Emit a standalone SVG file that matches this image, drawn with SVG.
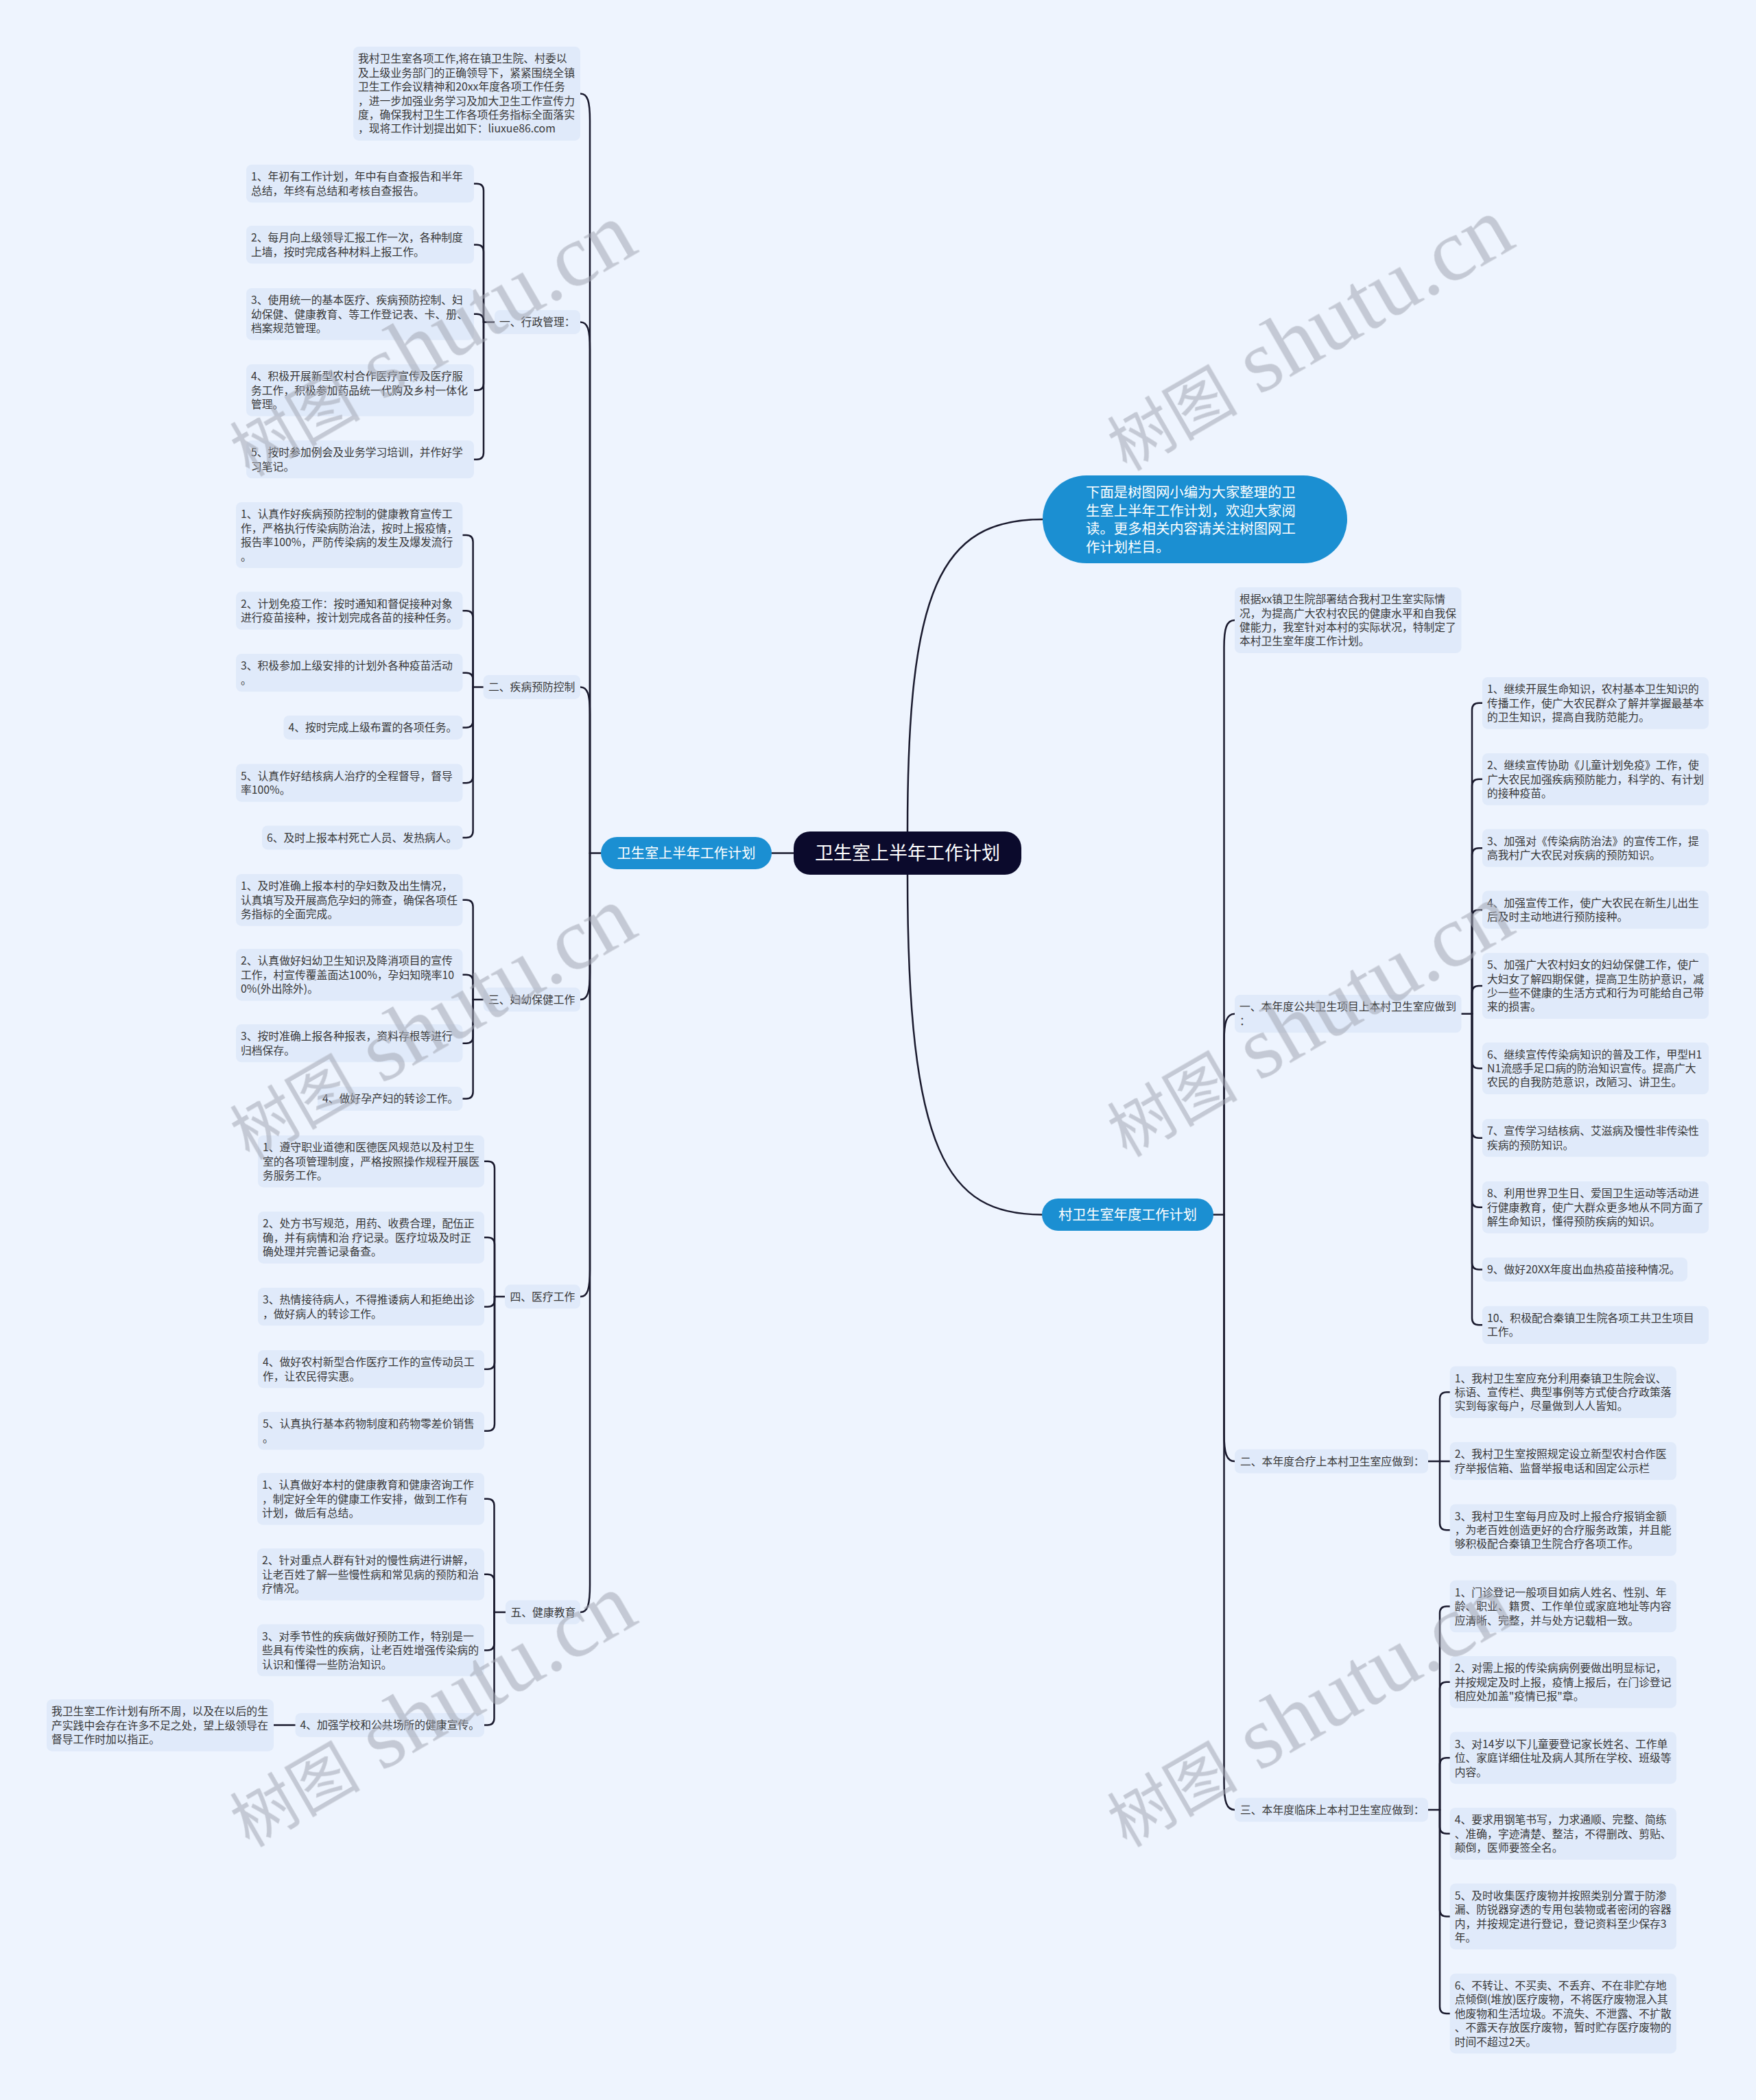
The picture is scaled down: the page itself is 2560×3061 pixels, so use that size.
<svg xmlns="http://www.w3.org/2000/svg" width="2560" height="3061" viewBox="0 0 2560 3061">
<style>
.bg{fill:#eef4fe}
.leaf{fill:#e0eafa}
.t{font-family:"Noto Sans CJK SC","Noto Sans",sans-serif;font-size:15.8px;fill:#383838}
.w{font-family:"Noto Sans CJK SC","Noto Sans",sans-serif;fill:#ffffff}
.blue{fill:#1b8fd2}
.root{fill:#0b0a2c}
#connectors path{fill:none;stroke:#1a1a2e;stroke-width:2.5;stroke-linecap:round}
.wm{font-family:"Liberation Serif","Noto Sans CJK SC",serif;fill:#a3a7b2;opacity:0.55}
</style>
<rect class="bg" x="0" y="0" width="2560" height="3061"/>

<g id="connectors">
<!-- left trunk -->
<path d="M846 136.5 C857 136.5 860 148 860 176 V1243.5"/>
<path d="M846 469.45 C857 469.45 860 481 860 509 V1243.5"/>
<path d="M846 1001.45 C857 1001.45 860 1013 860 1041 V1243.5"/>
<path d="M846 1457.05 C857 1457.05 860 1445 860 1417 V1243.5"/>
<path d="M846 1890.05 C857 1890.05 860 1878 860 1850 V1243.5"/>
<path d="M846 2350.05 C857 2350.05 860 2338 860 2310 V1243.5"/>
<path d="M860 1243.5 H876"/>
<path d="M1125 1243.5 H1157"/>
<!-- center to right -->
<path d="M1323 1212 C1323 860 1370 757 1520 757"/>
<path d="M1323 1275 C1323 1680 1380 1770.5 1519 1770.5"/>
<!-- right trunk -->
<path d="M1769 1770.5 H1784.5"/>
<path d="M1800 904.05 C1788 904.05 1784.5 916 1784.5 944 V1770.5"/>
<path d="M1800 1477.65 C1788 1477.65 1784.5 1490 1784.5 1518 V1770.5"/>
<path d="M1800 2130.05 C1788 2130.05 1784.5 2118 1784.5 2090 V1770.5"/>
<path d="M1800 2637.95 C1788 2637.95 1784.5 2626 1784.5 2598 V1770.5"/>
<!-- left 一 -->
<path d="M721 469.45 H705"/>
<path d="M705 469.45 V277.65 Q705 267.65 695 267.65 H691"/>
<path d="M705 469.45 V366.65 Q705 356.65 695 356.65 H691"/>
<path d="M705 469.45 V467.85 Q705 457.85 695 457.85 H691"/>
<path d="M705 469.45 V558.85 Q705 568.85 695 568.85 H691"/>
<path d="M705 469.45 V659.65 Q705 669.65 695 669.65 H691"/>
<!-- left 二 -->
<path d="M704.6 1001.45 H689.6"/>
<path d="M689.6 1001.45 V790.05 Q689.6 780.05 679.6 780.05 H674.5"/>
<path d="M689.6 1001.45 V900.15 Q689.6 890.15 679.6 890.15 H674.5"/>
<path d="M689.6 1001.45 V990.65 Q689.6 980.65 679.6 980.65 H674.5"/>
<path d="M689.6 1001.45 V1050.45 Q689.6 1060.45 679.6 1060.45 H674.5"/>
<path d="M689.6 1001.45 V1131.15 Q689.6 1141.15 679.6 1141.15 H674.5"/>
<path d="M689.6 1001.45 V1210.95 Q689.6 1220.95 679.6 1220.95 H674.5"/>
<!-- left 三 -->
<path d="M704.6 1457.05 H689.6"/>
<path d="M689.6 1457.05 V1321.85 Q689.6 1311.85 679.6 1311.85 H674.5"/>
<path d="M689.6 1457.05 V1430.85 Q689.6 1420.85 679.6 1420.85 H674.5"/>
<path d="M689.6 1457.05 V1510.65 Q689.6 1520.65 679.6 1520.65 H674.5"/>
<path d="M689.6 1457.05 V1591.45 Q689.6 1601.45 679.6 1601.45 H674.5"/>
<!-- left 四 -->
<path d="M736 1890.05 H721"/>
<path d="M721 1890.05 V1702.85 Q721 1692.85 711 1692.85 H706"/>
<path d="M721 1890.05 V1813.85 Q721 1803.85 711 1803.85 H706"/>
<path d="M721 1890.05 V1894.65 Q721 1904.65 711 1904.65 H706"/>
<path d="M721 1890.05 V1985.65 Q721 1995.65 711 1995.65 H706"/>
<path d="M721 1890.05 V2075.65 Q721 2085.65 711 2085.65 H706"/>
<!-- left 五 -->
<path d="M737 2350.05 H720.5"/>
<path d="M720.5 2350.05 V2194.85 Q720.5 2184.85 710.5 2184.85 H706"/>
<path d="M720.5 2350.05 V2304.85 Q720.5 2294.85 710.5 2294.85 H706"/>
<path d="M720.5 2350.05 V2395.45 Q720.5 2405.45 710.5 2405.45 H706"/>
<path d="M720.5 2350.05 V2504.45 Q720.5 2514.45 710.5 2514.45 H706"/>
<path d="M430.5 2514.5 H399"/>
<!-- right 一 -->
<path d="M2130.5 1477.65 H2146"/>
<path d="M2146 1477.65 V1034.85 Q2146 1024.85 2156 1024.85 H2161"/>
<path d="M2146 1477.65 V1145.85 Q2146 1135.85 2156 1135.85 H2161"/>
<path d="M2146 1477.65 V1246.15 Q2146 1236.15 2156 1236.15 H2161"/>
<path d="M2146 1477.65 V1336.15 Q2146 1326.15 2156 1326.15 H2161"/>
<path d="M2146 1477.65 V1447.05 Q2146 1437.05 2156 1437.05 H2161"/>
<path d="M2146 1477.65 V1547.25 Q2146 1557.25 2156 1557.25 H2161"/>
<path d="M2146 1477.65 V1648.65 Q2146 1658.65 2156 1658.65 H2161"/>
<path d="M2146 1477.65 V1749.85 Q2146 1759.85 2156 1759.85 H2161"/>
<path d="M2146 1477.65 V1840.45 Q2146 1850.45 2156 1850.45 H2161"/>
<path d="M2146 1477.65 V1921.35 Q2146 1931.35 2156 1931.35 H2161"/>
<!-- right 二 -->
<path d="M2082 2130.05 H2113.7"/>
<path d="M2099 2130.05 V2039.25 Q2099 2029.25 2109 2029.25 H2113.7"/>
<path d="M2099 2130.05 V2220.25 Q2099 2230.25 2109 2230.25 H2113.7"/>
<!-- right 三 -->
<path d="M2082 2637.95 H2099"/>
<path d="M2099 2637.95 V2351.45 Q2099 2341.45 2109 2341.45 H2113.7"/>
<path d="M2099 2637.95 V2461.85 Q2099 2451.85 2109 2451.85 H2113.7"/>
<path d="M2099 2637.95 V2572.35 Q2099 2562.35 2109 2562.35 H2113.7"/>
<path d="M2099 2637.95 V2662.85 Q2099 2672.85 2109 2672.85 H2113.7"/>
<path d="M2099 2637.95 V2783.55 Q2099 2793.55 2109 2793.55 H2113.7"/>
<path d="M2099 2637.95 V2924.95 Q2099 2934.95 2109 2934.95 H2113.7"/>
</g>

<!-- main nodes -->
<g id="root"><rect class="root" x="1157" y="1212" width="332" height="63" rx="24"/><text class="w" x="1323" y="1253" font-size="27" text-anchor="middle">卫生室上半年工作计划</text></g>
<g id="b-left"><rect class="blue" x="876" y="1220" width="249" height="47" rx="23.5"/><text class="w" x="1000.5" y="1251" font-size="20.2" text-anchor="middle">卫生室上半年工作计划</text></g>
<g id="b-right"><rect class="blue" x="1519" y="1747" width="250" height="47" rx="23.5"/><text class="w" x="1644" y="1778" font-size="20.2" text-anchor="middle">村卫生室年度工作计划</text></g>
<g id="b-intro"><rect class="blue" x="1520" y="693" width="444" height="128" rx="64"/><text class="w" font-size="20.4"><tspan x="1583" y="725">下面是树图网小编为大家整理的卫</tspan><tspan x="1583" y="751.5">生室上半年工作计划，欢迎大家阅</tspan><tspan x="1583" y="778">读。更多相关内容请关注树图网工</tspan><tspan x="1583" y="804.5">作计划栏目。</tspan></text></g>

<!-- left intro -->
<g id="l-intro"><rect class="leaf" x="515" y="68" width="331" height="136.9" rx="8"/><text class="t"><tspan x="522" y="91.3">我村卫生室各项工作,将在镇卫生院、村委以</tspan><tspan x="522" y="111.7">及上级业务部门的正确领导下，紧紧围绕全镇</tspan><tspan x="522" y="132.1">卫生工作会议精神和20xx年度各项工作任务</tspan><tspan x="522" y="152.5">，进一步加强业务学习及加大卫生工作宣传力</tspan><tspan x="522" y="172.9">度，确保我村卫生工作各项任务指标全面落实</tspan><tspan x="522" y="193.3">，现将工作计划提出如下：liuxue86.com</tspan></text></g>

<!-- 一 行政管理 -->
<g id="l1"><rect class="leaf" x="721" y="452" width="125" height="34.9" rx="8"/><text class="t" x="728" y="475.25">一、行政管理：</text></g>
<g id="l1-1"><rect class="leaf" x="359" y="240" width="332" height="55.3" rx="8"/><text class="t"><tspan x="366" y="263.3">1、年初有工作计划，年中有自查报告和半年</tspan><tspan x="366" y="283.7">总结，年终有总结和考核自查报告。</tspan></text></g>
<g id="l1-2"><rect class="leaf" x="359" y="329" width="332" height="55.3" rx="8"/><text class="t"><tspan x="366" y="352.3">2、每月向上级领导汇报工作一次，各种制度</tspan><tspan x="366" y="372.7">上墙，按时完成各种材料上报工作。</tspan></text></g>
<g id="l1-3"><rect class="leaf" x="359" y="420" width="332" height="75.7" rx="8"/><text class="t"><tspan x="366" y="443.3">3、使用统一的基本医疗、疾病预防控制、妇</tspan><tspan x="366" y="463.7">幼保健、健康教育、等工作登记表、卡、册、</tspan><tspan x="366" y="484.1">档案规范管理。</tspan></text></g>
<g id="l1-4"><rect class="leaf" x="359" y="531" width="332" height="75.7" rx="8"/><text class="t"><tspan x="366" y="554.3">4、积极开展新型农村合作医疗宣传及医疗服</tspan><tspan x="366" y="574.7">务工作，积极参加药品统一代购及乡村一体化</tspan><tspan x="366" y="595.1">管理。</tspan></text></g>
<g id="l1-5"><rect class="leaf" x="359" y="642" width="332" height="55.3" rx="8"/><text class="t"><tspan x="366" y="665.3">5、按时参加例会及业务学习培训，并作好学</tspan><tspan x="366" y="685.7">习笔记。</tspan></text></g>

<!-- 二 疾病预防控制 -->
<g id="l2"><rect class="leaf" x="704.6" y="984" width="141.4" height="34.9" rx="8"/><text class="t" x="712" y="1007.25">二、疾病预防控制</text></g>
<g id="l2-1"><rect class="leaf" x="344" y="732" width="330.5" height="96.1" rx="8"/><text class="t"><tspan x="351" y="755.3">1、认真作好疾病预防控制的健康教育宣传工</tspan><tspan x="351" y="775.7">作，严格执行传染病防治法，按时上报疫情，</tspan><tspan x="351" y="796.1">报告率100%，严防传染病的发生及爆发流行</tspan><tspan x="351" y="816.5">。</tspan></text></g>
<g id="l2-2"><rect class="leaf" x="344" y="862.5" width="330.5" height="55.3" rx="8"/><text class="t"><tspan x="351" y="885.75">2、计划免疫工作：按时通知和督促接种对象</tspan><tspan x="351" y="906.15">进行疫苗接种，按计划完成各苗的接种任务。</tspan></text></g>
<g id="l2-3"><rect class="leaf" x="344" y="953" width="330.5" height="55.3" rx="8"/><text class="t"><tspan x="351" y="976.25">3、积极参加上级安排的计划外各种疫苗活动</tspan><tspan x="351" y="996.65">。</tspan></text></g>
<g id="l2-4"><rect class="leaf" x="413.5" y="1043" width="261" height="34.9" rx="8"/><text class="t" x="420.5" y="1066.25">4、按时完成上级布置的各项任务。</text></g>
<g id="l2-5"><rect class="leaf" x="344" y="1113.5" width="330.5" height="55.3" rx="8"/><text class="t"><tspan x="351" y="1136.75">5、认真作好结核病人治疗的全程督导，督导</tspan><tspan x="351" y="1157.15">率100%。</tspan></text></g>
<g id="l2-6"><rect class="leaf" x="382" y="1203.5" width="292.5" height="34.9" rx="8"/><text class="t" x="389" y="1226.75">6、及时上报本村死亡人员、发热病人。</text></g>

<!-- 三 妇幼保健工作 -->
<g id="l3"><rect class="leaf" x="704.6" y="1439.6" width="141.4" height="34.9" rx="8"/><text class="t" x="712" y="1462.85">三、妇幼保健工作</text></g>
<g id="l3-1"><rect class="leaf" x="344" y="1274" width="330.5" height="75.7" rx="8"/><text class="t"><tspan x="351" y="1297.25">1、及时准确上报本村的孕妇数及出生情况，</tspan><tspan x="351" y="1317.65">认真填写及开展高危孕妇的筛查，确保各项任</tspan><tspan x="351" y="1338.05">务指标的全面完成。</tspan></text></g>
<g id="l3-2"><rect class="leaf" x="344" y="1383" width="330.5" height="75.7" rx="8"/><text class="t"><tspan x="351" y="1406.25">2、认真做好妇幼卫生知识及降消项目的宣传</tspan><tspan x="351" y="1426.65">工作，村宣传覆盖面达100%，孕妇知晓率10</tspan><tspan x="351" y="1447.05">0%(外出除外)。</tspan></text></g>
<g id="l3-3"><rect class="leaf" x="344" y="1493" width="330.5" height="55.3" rx="8"/><text class="t"><tspan x="351" y="1516.25">3、按时准确上报各种报表，资料存根等进行</tspan><tspan x="351" y="1536.65">归档保存。</tspan></text></g>
<g id="l3-4"><rect class="leaf" x="463" y="1584" width="211.5" height="34.9" rx="8"/><text class="t" x="470" y="1607.25">4、做好孕产妇的转诊工作。</text></g>

<!-- 四 医疗工作 -->
<g id="l4"><rect class="leaf" x="736" y="1872.6" width="110" height="34.9" rx="8"/><text class="t" x="743.5" y="1895.85">四、医疗工作</text></g>
<g id="l4-1"><rect class="leaf" x="376" y="1655" width="330" height="75.7" rx="8"/><text class="t"><tspan x="383" y="1678.25">1、遵守职业道德和医德医风规范以及村卫生</tspan><tspan x="383" y="1698.65">室的各项管理制度，严格按照操作规程开展医</tspan><tspan x="383" y="1719.05">务服务工作。</tspan></text></g>
<g id="l4-2"><rect class="leaf" x="376" y="1766" width="330" height="75.7" rx="8"/><text class="t"><tspan x="383" y="1789.25">2、处方书写规范，用药、收费合理，配伍正</tspan><tspan x="383" y="1809.65">确，并有病情和治 疗记录。医疗垃圾及时正</tspan><tspan x="383" y="1830.05">确处理并完善记录备查。</tspan></text></g>
<g id="l4-3"><rect class="leaf" x="376" y="1877" width="330" height="55.3" rx="8"/><text class="t"><tspan x="383" y="1900.25">3、热情接待病人，不得推诿病人和拒绝出诊</tspan><tspan x="383" y="1920.65">，做好病人的转诊工作。</tspan></text></g>
<g id="l4-4"><rect class="leaf" x="376" y="1968" width="330" height="55.3" rx="8"/><text class="t"><tspan x="383" y="1991.25">4、做好农村新型合作医疗工作的宣传动员工</tspan><tspan x="383" y="2011.65">作，让农民得实惠。</tspan></text></g>
<g id="l4-5"><rect class="leaf" x="376" y="2058" width="330" height="55.3" rx="8"/><text class="t"><tspan x="383" y="2081.25">5、认真执行基本药物制度和药物零差价销售</tspan><tspan x="383" y="2101.65">。</tspan></text></g>

<!-- 五 健康教育 -->
<g id="l5"><rect class="leaf" x="737" y="2332.6" width="109" height="34.9" rx="8"/><text class="t" x="744.5" y="2355.85">五、健康教育</text></g>
<g id="l5-1"><rect class="leaf" x="375" y="2147" width="331" height="75.7" rx="8"/><text class="t"><tspan x="382" y="2170.25">1、认真做好本村的健康教育和健康咨询工作</tspan><tspan x="382" y="2190.65">，制定好全年的健康工作安排，做到工作有</tspan><tspan x="382" y="2211.05">计划，做后有总结。</tspan></text></g>
<g id="l5-2"><rect class="leaf" x="375" y="2257" width="331" height="75.7" rx="8"/><text class="t"><tspan x="382" y="2280.25">2、针对重点人群有针对的慢性病进行讲解，</tspan><tspan x="382" y="2300.65">让老百姓了解一些慢性病和常见病的预防和治</tspan><tspan x="382" y="2321.05">疗情况。</tspan></text></g>
<g id="l5-3"><rect class="leaf" x="375" y="2367.6" width="331" height="75.7" rx="8"/><text class="t"><tspan x="382" y="2390.85">3、对季节性的疾病做好预防工作，特别是一</tspan><tspan x="382" y="2411.25">些具有传染性的疾病，让老百姓增强传染病的</tspan><tspan x="382" y="2431.65">认识和懂得一些防治知识。</tspan></text></g>
<g id="l5-4"><rect class="leaf" x="430.5" y="2497" width="275.5" height="34.9" rx="8"/><text class="t" x="437.5" y="2520.25">4、加强学校和公共场所的健康宣传。</text></g>
<g id="l5-4-1"><rect class="leaf" x="68" y="2477" width="331" height="75.7" rx="8"/><text class="t"><tspan x="75" y="2500.25">我卫生室工作计划有所不周，以及在以后的生</tspan><tspan x="75" y="2520.65">产实践中会存在许多不足之处，望上级领导在</tspan><tspan x="75" y="2541.05">督导工作时加以指正。</tspan></text></g>

<!-- right intro -->
<g id="r-intro"><rect class="leaf" x="1800" y="856" width="330.5" height="96.1" rx="8"/><text class="t"><tspan x="1807" y="879.25">根据xx镇卫生院部署结合我村卫生室实际情</tspan><tspan x="1807" y="899.65">况，为提高广大农村农民的健康水平和自我保</tspan><tspan x="1807" y="920.05">健能力，我室针对本村的实际状况，特制定了</tspan><tspan x="1807" y="940.45">本村卫生室年度工作计划。</tspan></text></g>

<!-- right 一 -->
<g id="r1"><rect class="leaf" x="1800" y="1450" width="330.5" height="55.3" rx="8"/><text class="t"><tspan x="1807" y="1473.25">一、本年度公共卫生项目上本村卫生室应做到</tspan><tspan x="1807" y="1493.65">：</tspan></text></g>
<g id="r1-1"><rect class="leaf" x="2161" y="987" width="330" height="75.7" rx="8"/><text class="t"><tspan x="2168" y="1010.25">1、继续开展生命知识，农村基本卫生知识的</tspan><tspan x="2168" y="1030.65">传播工作，使广大农民群众了解并掌握最基本</tspan><tspan x="2168" y="1051.05">的卫生知识，提高自我防范能力。</tspan></text></g>
<g id="r1-2"><rect class="leaf" x="2161" y="1098" width="330" height="75.7" rx="8"/><text class="t"><tspan x="2168" y="1121.25">2、继续宣传协助《儿童计划免疫》工作，使</tspan><tspan x="2168" y="1141.65">广大农民加强疾病预防能力，科学的、有计划</tspan><tspan x="2168" y="1162.05">的接种疫苗。</tspan></text></g>
<g id="r1-3"><rect class="leaf" x="2161" y="1208.5" width="330" height="55.3" rx="8"/><text class="t"><tspan x="2168" y="1231.75">3、加强对《传染病防治法》的宣传工作，提</tspan><tspan x="2168" y="1252.15">高我村广大农民对疾病的预防知识。</tspan></text></g>
<g id="r1-4"><rect class="leaf" x="2161" y="1298.5" width="330" height="55.3" rx="8"/><text class="t"><tspan x="2168" y="1321.75">4、加强宣传工作，使广大农民在新生儿出生</tspan><tspan x="2168" y="1342.15">后及时主动地进行预防接种。</tspan></text></g>
<g id="r1-5"><rect class="leaf" x="2161" y="1389" width="330" height="96.1" rx="8"/><text class="t"><tspan x="2168" y="1412.25">5、加强广大农村妇女的妇幼保健工作，使广</tspan><tspan x="2168" y="1432.65">大妇女了解四期保健，提高卫生防护意识，减</tspan><tspan x="2168" y="1453.05">少一些不健康的生活方式和行为可能给自己带</tspan><tspan x="2168" y="1473.45">来的损害。</tspan></text></g>
<g id="r1-6"><rect class="leaf" x="2161" y="1519.4" width="330" height="75.7" rx="8"/><text class="t"><tspan x="2168" y="1542.65">6、继续宣传传染病知识的普及工作，甲型H1</tspan><tspan x="2168" y="1563.05">N1流感手足口病的防治知识宣传。提高广大</tspan><tspan x="2168" y="1583.45">农民的自我防范意识，改陋习、讲卫生。</tspan></text></g>
<g id="r1-7"><rect class="leaf" x="2161" y="1631" width="330" height="55.3" rx="8"/><text class="t"><tspan x="2168" y="1654.25">7、宣传学习结核病、艾滋病及慢性非传染性</tspan><tspan x="2168" y="1674.65">疾病的预防知识。</tspan></text></g>
<g id="r1-8"><rect class="leaf" x="2161" y="1722" width="330" height="75.7" rx="8"/><text class="t"><tspan x="2168" y="1745.25">8、利用世界卫生日、爱国卫生运动等活动进</tspan><tspan x="2168" y="1765.65">行健康教育，使广大群众更多地从不同方面了</tspan><tspan x="2168" y="1786.05">解生命知识，懂得预防疾病的知识。</tspan></text></g>
<g id="r1-9"><rect class="leaf" x="2161" y="1833" width="299" height="34.9" rx="8"/><text class="t" x="2168" y="1856.25">9、做好20XX年度出血热疫苗接种情况。</text></g>
<g id="r1-10"><rect class="leaf" x="2161" y="1903.7" width="330" height="55.3" rx="8"/><text class="t"><tspan x="2168" y="1926.95">10、积极配合秦镇卫生院各项工共卫生项目</tspan><tspan x="2168" y="1947.35">工作。</tspan></text></g>

<!-- right 二 -->
<g id="r2"><rect class="leaf" x="1800" y="2112.6" width="282" height="34.9" rx="8"/><text class="t" x="1808" y="2135.85">二、本年度合疗上本村卫生室应做到：</text></g>
<g id="r2-1"><rect class="leaf" x="2113.7" y="1991.4" width="330.3" height="75.7" rx="8"/><text class="t"><tspan x="2120.7" y="2014.65">1、我村卫生室应充分利用秦镇卫生院会议、</tspan><tspan x="2120.7" y="2035.05">标语、宣传栏、典型事例等方式使合疗政策落</tspan><tspan x="2120.7" y="2055.45">实到每家每户，尽量做到人人皆知。</tspan></text></g>
<g id="r2-2"><rect class="leaf" x="2113.7" y="2102" width="330.3" height="55.3" rx="8"/><text class="t"><tspan x="2120.7" y="2125.25">2、我村卫生室按照规定设立新型农村合作医</tspan><tspan x="2120.7" y="2145.65">疗举报信箱、监督举报电话和固定公示栏</tspan></text></g>
<g id="r2-3"><rect class="leaf" x="2113.7" y="2192.4" width="330.3" height="75.7" rx="8"/><text class="t"><tspan x="2120.7" y="2215.65">3、我村卫生室每月应及时上报合疗报销金额</tspan><tspan x="2120.7" y="2236.05">，为老百姓创造更好的合疗服务政策，并且能</tspan><tspan x="2120.7" y="2256.45">够积极配合秦镇卫生院合疗各项工作。</tspan></text></g>

<!-- right 三 -->
<g id="r3"><rect class="leaf" x="1800" y="2620.5" width="282" height="34.9" rx="8"/><text class="t" x="1808" y="2643.75">三、本年度临床上本村卫生室应做到：</text></g>
<g id="r3-1"><rect class="leaf" x="2113.7" y="2303.6" width="330.3" height="75.7" rx="8"/><text class="t"><tspan x="2120.7" y="2326.85">1、门诊登记一般项目如病人姓名、性别、年</tspan><tspan x="2120.7" y="2347.25">龄、职业、籍贯、工作单位或家庭地址等内容</tspan><tspan x="2120.7" y="2367.65">应清晰、完整，并与处方记载相一致。</tspan></text></g>
<g id="r3-2"><rect class="leaf" x="2113.7" y="2414" width="330.3" height="75.7" rx="8"/><text class="t"><tspan x="2120.7" y="2437.25">2、对需上报的传染病病例要做出明显标记，</tspan><tspan x="2120.7" y="2457.65">并按规定及时上报，疫情上报后，在门诊登记</tspan><tspan x="2120.7" y="2478.05">相应处加盖"疫情已报"章。</tspan></text></g>
<g id="r3-3"><rect class="leaf" x="2113.7" y="2524.5" width="330.3" height="75.7" rx="8"/><text class="t"><tspan x="2120.7" y="2547.75">3、对14岁以下儿童要登记家长姓名、工作单</tspan><tspan x="2120.7" y="2568.15">位、家庭详细住址及病人其所在学校、班级等</tspan><tspan x="2120.7" y="2588.55">内容。</tspan></text></g>
<g id="r3-4"><rect class="leaf" x="2113.7" y="2635" width="330.3" height="75.7" rx="8"/><text class="t"><tspan x="2120.7" y="2658.25">4、要求用钢笔书写，力求通顺、完整、简练</tspan><tspan x="2120.7" y="2678.65">、准确，字迹清楚、整洁，不得删改、剪贴、</tspan><tspan x="2120.7" y="2699.05">颠倒，医师要签全名。</tspan></text></g>
<g id="r3-5"><rect class="leaf" x="2113.7" y="2745.5" width="330.3" height="96.1" rx="8"/><text class="t"><tspan x="2120.7" y="2768.75">5、及时收集医疗废物并按照类别分置于防渗</tspan><tspan x="2120.7" y="2789.15">漏、防锐器穿透的专用包装物或者密闭的容器</tspan><tspan x="2120.7" y="2809.55">内，并按规定进行登记，登记资料至少保存3</tspan><tspan x="2120.7" y="2829.95">年。</tspan></text></g>
<g id="r3-6"><rect class="leaf" x="2113.7" y="2876.7" width="330.3" height="116.5" rx="8"/><text class="t"><tspan x="2120.7" y="2899.95">6、不转让、不买卖、不丢弃、不在非贮存地</tspan><tspan x="2120.7" y="2920.35">点倾倒(堆放)医疗废物，不将医疗废物混入其</tspan><tspan x="2120.7" y="2940.75">他废物和生活垃圾。不流失、不泄露、不扩散</tspan><tspan x="2120.7" y="2961.15">、不露天存放医疗废物，暂时贮存医疗废物的</tspan><tspan x="2120.7" y="2981.55">时间不超过2天。</tspan></text></g>

<!-- watermarks -->
<g id="watermarks" class="wm" text-anchor="middle">
<text transform="translate(649 531) rotate(-30)"><tspan font-size="95">树图</tspan><tspan font-size="130"> shutu.cn</tspan></text>
<text transform="translate(1928 523) rotate(-30)"><tspan font-size="95">树图</tspan><tspan font-size="130"> shutu.cn</tspan></text>
<text transform="translate(649 1527) rotate(-30)"><tspan font-size="95">树图</tspan><tspan font-size="130"> shutu.cn</tspan></text>
<text transform="translate(1928 1523) rotate(-30)"><tspan font-size="95">树图</tspan><tspan font-size="130"> shutu.cn</tspan></text>
<text transform="translate(649 2529) rotate(-30)"><tspan font-size="95">树图</tspan><tspan font-size="130"> shutu.cn</tspan></text>
<text transform="translate(1928 2529) rotate(-30)"><tspan font-size="95">树图</tspan><tspan font-size="130"> shutu.cn</tspan></text>
</g>
</svg>
